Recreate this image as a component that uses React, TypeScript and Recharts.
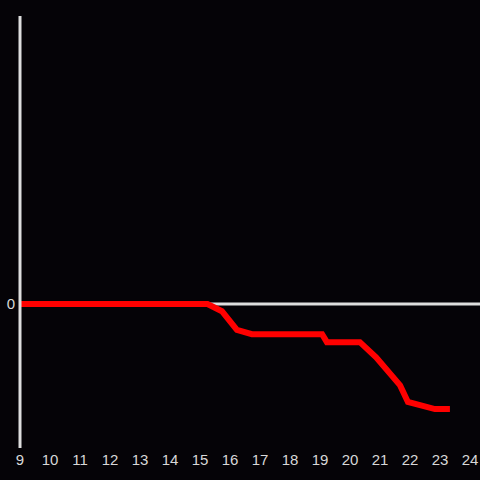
import React from 'react';
import { LineChart, Line, XAxis, YAxis, ReferenceLine } from 'recharts';

const hours = [9, 15.25, 15.73, 16.23, 16.73, 19.07, 19.23, 20.33, 20.87, 21.67, 21.93, 22.83, 23.33];
const values = [0, 0, -0.05, -0.18, -0.21, -0.21, -0.265, -0.265, -0.37, -0.565, -0.68, -0.73, -0.73];
const xTicks = [9, 10, 11, 12, 13, 14, 15, 16, 17, 18, 19, 20, 21, 22, 23, 24];
const yTicks = [0];

const data = hours.map((h, i) => ({ h, v: values[i] }));

export default function App() {
  return (
    <div style={{ position: 'absolute', left: 0, top: 0, width: 480, height: 480, background: '#050307' }}>
      <LineChart width={480} height={480} data={data} margin={{ top: 16, right: 0, bottom: 0, left: 0 }}>
        <XAxis
          dataKey="h"
          type="number"
          domain={[9, 24.333]}
          ticks={xTicks}
          axisLine={false}
          tickLine={false}
          tickSize={4}
          tickMargin={2}
          height={32}
          allowDataOverflow
          tick={{ fill: '#d8d8d8', fontSize: 15, fontFamily: 'Liberation Sans, Arial, sans-serif' }}
        />
        <YAxis
          type="number"
          domain={[-1, 2]}
          ticks={yTicks}
          width={20}
          axisLine={{ stroke: '#dedede', strokeWidth: 3 }}
          tickLine={false}
          tickSize={3}
          tickMargin={2}
          tick={{ fill: '#d8d8d8', fontSize: 15, fontFamily: 'Liberation Sans, Arial, sans-serif' }}
        />
        <ReferenceLine y={0} stroke="#dedede" strokeWidth={3} />
        <Line
          dataKey="v"
          type="linear"
          stroke="#ff0000"
          strokeWidth={6}
          dot={false}
          isAnimationActive={false}
        />
      </LineChart>
    </div>
  );
}
